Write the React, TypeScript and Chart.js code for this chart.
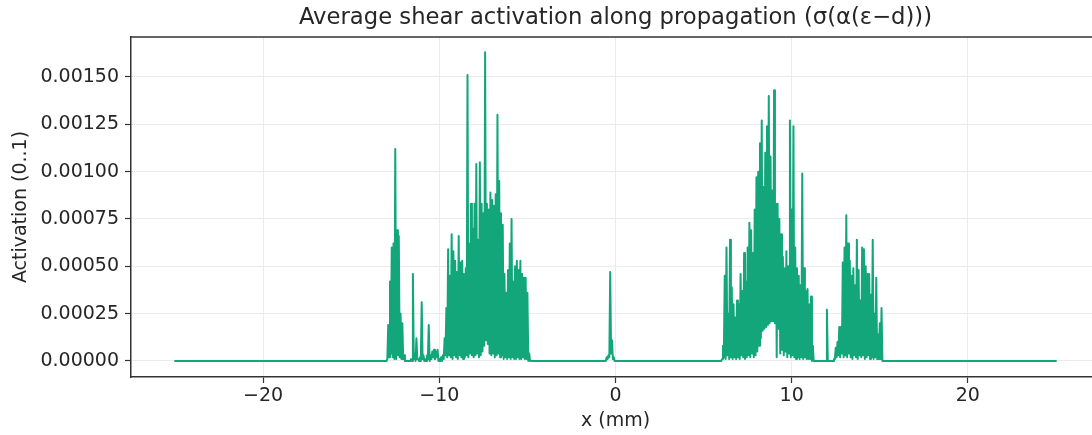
import React, { useEffect, useRef } from "react";
import { Chart, registerables } from "chart.js";

Chart.register(...registerables);

// ---------- data ----------
const chartTitle = "Average shear activation along propagation (σ(α(ε−d)))";
const xAxisLabel = "x (mm)";
const yAxisLabel = "Activation (0..1)";

const xDomain = [-25, 25]; // propagation range (mm), activation 0 outside the clusters
const xTickValues = [-20, -10, 0, 10, 20];
const yTickValues = [0, 0.00025, 0.0005, 0.00075, 0.001, 0.00125, 0.0015];

const sampleStep = 0.1; // mm between successive peak samples; troughs sit half a step later

// West clusters: peaks at -13.0, -12.9, ... -4.8
const westStart = -13.0;
const westPeaks = [
  0, 0.00019, 0.00042, 0.0006, 0.00062, 0.00112, 0.00069, 0.00066, 0.00025, 0.0002,
  0.00003, 0, 0, 0, 0.00001, 0.00046, 0.00004, 0.00012, 0.00001, 0.00002,
  0.00031, 0.00003, 0.00001, 0.00003, 0.00019, 0.00003, 0.00005, 0.00006, 0.00005, 0.00006,
  0.00001, 0.00002, 0.00003, 0.00012, 0.00028, 0.00059, 0.00045, 0.00067, 0.00058, 0.00053,
  0.00047, 0.00066, 0.00052, 0.00053, 0.00046, 0.00049, 0.00151, 0.00062, 0.00083, 0.0007,
  0.00083, 0.00104, 0.00064, 0.00105, 0.00083, 0.00078, 0.00163, 0.00083, 0.0008, 0.00089,
  0.00085, 0.00082, 0.00088, 0.0013, 0.00095, 0.00078, 0.00072, 0.00046, 0.00036, 0.00048,
  0.00062, 0.00075, 0.00042, 0.0005, 0.00053, 0.00048, 0.00053, 0.00046, 0.00044, 0.00044,
  0.00036, 0.00004, 0,
];
const westTroughs = [
  0.00001, 0.00002, 0.00004, 0.00002, 0.00001, 0.00001, 0.00003, 0.00002, 0.00001, 0.00001,
  0, 0, 0, 0, 0, 0.00001, 0, 0.00001, 0, 0,
  0.00001, 0, 0, 0.00001, 0, 0.00001, 0.00002, 0.00001, 0.00002, 0,
  0, 0, 0.00001, 0.00003, 0.00002, 0.00003, 0.00002, 0.00001, 0.00003, 0.00002,
  0.00001, 0.00003, 0.00002, 0.00001, 0.00002, 0.00003, 0.00002, 0.00004, 0.00003, 0.00002,
  0.00003, 0.00004, 0.00002, 0.00003, 0.00005, 0.00008, 0.00011, 0.00009, 0.00004, 0.00003,
  0.00004, 0.00002, 0.00003, 0.00004, 0.00002, 0.00003, 0.00001, 0.00002, 0.00001, 0.00002,
  0.00001, 0.00002, 0.00001, 0.00001, 0.00002, 0.00001, 0.00001, 0.00002, 0.00001, 0.00001,
  0, 0, 0,
];

// Single spike just left of the origin: peaks at -0.6 ... 0.0
const centreStart = -0.6;
const centrePeaks = [0, 0.00002, 0.00003, 0.00047, 0.00011, 0.00002, 0];
const centreTroughs = [0, 0.00001, 0.00002, 0.00004, 0.00001, 0, 0];

// East clusters: peaks at 6.0, 6.1, ... 15.2
const eastStart = 6.0;
const eastPeaks = [
  0, 0.00008, 0.00045, 0.0006, 0.00025, 0.00064, 0.00039, 0.0003, 0.00023, 0.00032,
  0.0003, 0.00046, 0.00037, 0.00057, 0.00042, 0.0006, 0.00073, 0.00069, 0.00057, 0.0008,
  0.00097, 0.001, 0.00115, 0.00127, 0.00092, 0.0011, 0.00124, 0.0014, 0.00108, 0.0009,
  0.00143, 0.00083, 0.00083, 0.00075, 0.00067, 0.00055, 0.00049, 0.00058, 0.0005, 0.00127,
  0.0008, 0.00124, 0.0006, 0.00049, 0.00045, 0.0004, 0.00099, 0.00049, 0.00037, 0.00038,
  0.0003, 0.00034, 0.00008, 0, 0, 0, 0, 0, 0, 0,
  0.00027, 0, 0, 0, 0.00001, 0.00007, 0.0001, 0.00018, 0.00018, 0.00052,
  0.0006, 0.00077, 0.00062, 0.00053, 0.00045, 0.00049, 0.0004, 0.00064, 0.00048, 0.00032,
  0.0006, 0.00059, 0.0005, 0.00046, 0.00046, 0.00035, 0.00064, 0.00025, 0.00044, 0.00014,
  0.0002, 0.00028, 0,
];
const eastTroughs = [
  0.00001, 0.00002, 0.00001, 0.00003, 0.00001, 0.00002, 0.00001, 0.00002, 0.00001, 0.00002,
  0.00001, 0.00003, 0.00002, 0.00001, 0.00002, 0.00003, 0.00002, 0.00004, 0.00002, 0.00003,
  0.00005, 0.00008, 0.00012, 0.00016, 0.00017, 0.00018, 0.00019, 0.0002, 0.00021, 0.00021,
  0.0002, 0.00002, 0.00017, 0.00004, 0.00006, 0.00003, 0.00005, 0.00002, 0.00004, 0.00002,
  0.00003, 0.00002, 0.00001, 0.00002, 0.00001, 0.00002, 0.00001, 0.00002, 0.00001, 0.00001,
  0.00001, 0, 0, 0, 0, 0, 0, 0, 0, 0,
  0, 0, 0, 0, 0.00001, 0.00002, 0.00003, 0.00002, 0.00004, 0.00002,
  0.00003, 0.00002, 0.00004, 0.00002, 0.00001, 0.00003, 0.00002, 0.00001, 0.00003, 0.00002,
  0.00003, 0.00001, 0.00002, 0.00003, 0.00001, 0.00002, 0.00001, 0.00002, 0.00001, 0.00001,
  0.00001, 0, 0,
];

// ---------- styling ----------
const lineColor = "rgb(18,166,122)";
const fontFamily = "'DejaVu Sans', 'Liberation Sans', sans-serif";
const textColor = "#262626";
const spineColor = "#333333";
const gridColor = "#ebebeb";

function segmentPoints(start: number, peaks: number[], troughs: number[]) {
  const pts: { x: number; y: number }[] = [];
  for (let i = 0; i < peaks.length; i++) {
    const x = start + i * sampleStep;
    pts.push({ x: +x.toFixed(3), y: peaks[i] });
    pts.push({ x: +(x + sampleStep / 2).toFixed(3), y: troughs[i] });
  }
  return pts;
}

function buildPoints() {
  return [
    { x: xDomain[0], y: 0 },
    ...segmentPoints(westStart, westPeaks, westTroughs),
    ...segmentPoints(centreStart, centrePeaks, centreTroughs),
    ...segmentPoints(eastStart, eastPeaks, eastTroughs),
    { x: xDomain[1], y: 0 },
  ];
}

const CANVAS_W = 1110;
const CANVAS_H = 435;
const PLOT_LEFT = 131;
const PLOT_TOP = 37;
const PLOT_BOTTOM = 377;
const PLOT_RIGHT = 1100;
const TICK_FONT = 19;
const LABEL_FONT = 19;
const TITLE_FONT = 22.7;

const decorPlugin = {
  id: "decor",
  afterDatasetsDraw(chart: any) {
    const { ctx, chartArea } = chart;
    ctx.save();
    // top and right spines
    ctx.strokeStyle = spineColor;
    ctx.lineWidth = 1.5;
    ctx.beginPath();
    ctx.moveTo(chartArea.left - 0.75, chartArea.top);
    ctx.lineTo(chartArea.right + 0.75, chartArea.top);
    ctx.lineTo(chartArea.right + 0.75, chartArea.bottom);
    ctx.stroke();
    // title and axis labels
    ctx.fillStyle = textColor;
    ctx.textAlign = "center";
    ctx.textBaseline = "middle";
    const cx = (chartArea.left + chartArea.right) / 2;
    ctx.font = `${TITLE_FONT}px ${fontFamily}`;
    ctx.fillText(chartTitle, cx, 18);
    ctx.font = `${LABEL_FONT}px ${fontFamily}`;
    ctx.fillText(xAxisLabel, cx, 421);
    ctx.translate(21.5, (chartArea.top + chartArea.bottom) / 2);
    ctx.rotate(-Math.PI / 2);
    ctx.fillText(yAxisLabel, 0, 0);
    ctx.restore();
  },
};

function fmtX(v: number) {
  return v < 0 ? "\u2212" + Math.abs(v) : String(v);
}

export default function App() {
  const canvasRef = useRef<HTMLCanvasElement | null>(null);

  useEffect(() => {
    if (!canvasRef.current) return;
    const chart = new Chart(canvasRef.current, {
      type: "line",
      data: {
        datasets: [
          {
            data: buildPoints(),
            borderColor: lineColor,
            backgroundColor: lineColor,
            borderWidth: 2,
            pointRadius: 0,
            pointHoverRadius: 0,
            tension: 0,
            fill: false,
            borderJoinStyle: "round",
            borderCapStyle: "round",
          },
        ],
      },
      options: {
        animation: false,
        responsive: false,
        devicePixelRatio: 1,
        events: [],
        layout: {
          padding: { left: 0, top: PLOT_TOP, right: CANVAS_W - PLOT_RIGHT, bottom: 0 },
        },
        plugins: {
          legend: { display: false },
          tooltip: { enabled: false },
          title: { display: false },
        },
        scales: {
          x: {
            type: "linear",
            min: -27.5,
            max: 27.5,
            afterBuildTicks: (scale: any) => {
              scale.ticks = xTickValues.map((v) => ({ value: v }));
            },
            afterFit: (scale: any) => {
              scale.height = CANVAS_H - PLOT_BOTTOM;
            },
            grid: {
              color: gridColor,
              lineWidth: 1,
              drawTicks: true,
              tickLength: 6,
              tickColor: spineColor,
              tickWidth: 1.2,
            },
            border: { display: true, color: spineColor, width: 1.5 },
            ticks: {
              color: textColor,
              font: { family: fontFamily, size: TICK_FONT },
              padding: 2,
              maxRotation: 0,
              autoSkip: false,
              callback: (v: any) => fmtX(Number(v)),
            },
          },
          y: {
            type: "linear",
            min: -0.0000845,
            max: 0.001711,
            afterBuildTicks: (scale: any) => {
              scale.ticks = yTickValues.map((v) => ({ value: v }));
            },
            afterFit: (scale: any) => {
              scale.width = PLOT_LEFT;
            },
            grid: {
              color: gridColor,
              lineWidth: 1,
              drawTicks: true,
              tickLength: 6,
              tickColor: spineColor,
              tickWidth: 1.2,
            },
            border: { display: true, color: spineColor, width: 1.5 },
            ticks: {
              color: textColor,
              font: { family: fontFamily, size: TICK_FONT },
              padding: 6,
              autoSkip: false,
              callback: (v: any) => Number(v).toFixed(5),
            },
          },
        },
      },
      plugins: [decorPlugin],
    } as any);
    return () => chart.destroy();
  }, []);

  return (
    <div
      style={{
        position: "fixed",
        left: 0,
        top: 0,
        width: CANVAS_W,
        height: CANVAS_H,
        overflow: "hidden",
        background: "#ffffff",
      }}
    >
      <canvas ref={canvasRef} width={CANVAS_W} height={CANVAS_H} style={{ display: "block" }} />
    </div>
  );
}
